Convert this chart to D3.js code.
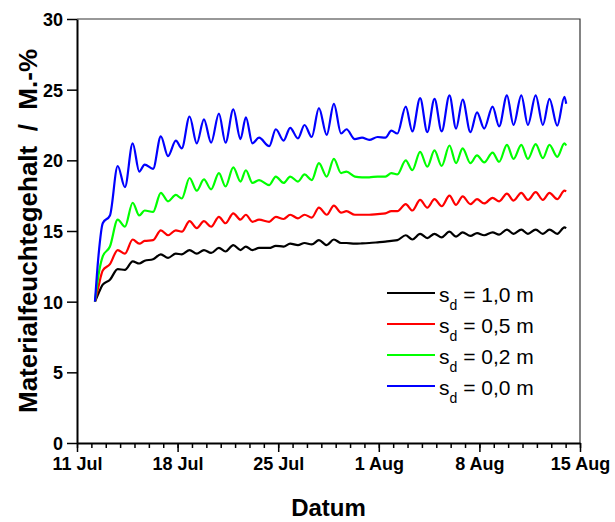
<!DOCTYPE html>
<html>
<head>
<meta charset="utf-8">
<script src="https://cdn.jsdelivr.net/npm/d3@7"></script>
<style>
  body { margin: 0; background: #fff; }
  svg { display: block; font-family: "Liberation Sans", Arial, sans-serif; }
</style>
</head>
<body>
<div id="chart"></div>
<script>
// time in days after 11 Jul 00:00
const days = [1.25, 1.5, 1.83, 2.30, 2.84, 3.34, 3.88, 4.34, 4.74, 5.32,
  5.85, 6.36, 6.88, 7.32, 7.87, 8.34, 8.87, 9.34, 9.90, 10.36,
  10.89, 11.41, 11.78, 12.24, 12.68, 13.38, 13.87, 14.38, 14.84, 15.38,
  15.84, 16.36, 16.86, 17.40, 17.91, 18.40, 18.77, 19.37, 19.84, 20.35,
  20.93, 21.46, 21.88, 22.33, 22.89, 23.34, 23.90, 24.41, 24.90, 25.41,
  25.92, 26.41, 26.85, 27.39, 27.85, 28.36, 28.94, 29.41, 29.94, 30.40,
  30.92, 31.41, 31.92, 32.43, 32.91, 33.43, 33.94, 34.05];

const sd10 = [10, 10.6, 11.2, 11.55, 12.3, 12.25, 12.85, 12.7, 12.9, 13.0,
  13.35, 13.1, 13.4, 13.35, 13.65, 13.4, 13.65, 13.45, 13.8, 13.55,
  14.0, 13.65, 13.9, 13.65, 13.8, 13.8, 13.95, 13.9, 14.1, 14.0,
  14.15, 14.05, 14.35, 14.0, 14.4, 14.15, 14.15, 14.1, 14.12, 14.15,
  14.2, 14.25, 14.3, 14.35, 14.7, 14.4, 14.8, 14.5, 14.8, 14.55,
  14.95, 14.6, 14.9, 14.65, 14.85, 14.7, 14.9, 14.75, 15.1, 14.8,
  15.1, 14.8, 15.1, 14.8, 15.1, 14.8, 15.25, 15.2];

const sd05 = [10, 11.1, 12.2, 12.65, 13.65, 13.4, 14.4, 14.1, 14.3, 14.35,
  15.05, 14.7, 15.05, 14.95, 15.7, 15.2, 15.7, 15.3, 16.0, 15.55,
  16.25, 15.8, 16.15, 15.65, 15.8, 15.65, 16.0, 15.85, 16.15, 15.9,
  16.15, 15.95, 16.65, 16.15, 16.8, 16.3, 16.4, 16.15, 16.15, 16.15,
  16.2, 16.25, 16.4, 16.4, 16.9, 16.45, 17.2, 16.65, 17.25, 16.75,
  17.5, 16.85, 17.45, 16.9, 17.25, 16.95, 17.35, 17.1, 17.65, 17.15,
  17.7, 17.2, 17.75, 17.2, 17.7, 17.25, 17.85, 17.8];

const sd02 = [10, 11.9, 13.2, 13.9, 15.8, 15.3, 17.0, 16.1, 16.45, 16.35,
  17.7, 17.1, 17.55, 17.3, 18.75, 17.85, 18.65, 17.95, 19.1, 18.15,
  19.5, 18.5, 19.3, 18.4, 18.6, 18.25, 18.85, 18.4, 18.85, 18.5,
  19.0, 18.6, 19.8, 18.85, 20.1, 19.1, 19.2, 18.85, 18.8, 18.8,
  18.85, 18.85, 19.1, 19.0, 20.0, 19.3, 20.6, 19.55, 20.7, 19.6,
  21.05, 19.8, 20.85, 19.8, 20.35, 19.85, 20.55, 19.9, 21.1, 20.1,
  21.1, 20.1, 21.15, 20.15, 21.1, 20.25, 21.2, 21.05];

const sd00 = [10, 13.3, 15.55, 16.1, 19.6, 18.1, 21.2, 19.2, 19.7, 19.4,
  21.7, 20.3, 21.4, 20.85, 23.1, 21.2, 22.9, 21.25, 23.3, 21.25,
  23.6, 21.5, 23.05, 21.2, 21.6, 21.0, 22.2, 21.4, 22.3, 21.55,
  22.5, 21.65, 23.7, 21.8, 24.0, 21.9, 22.2, 21.5, 21.6, 21.45,
  21.65, 21.6, 22.1, 21.9, 23.8, 22.05, 24.4, 22.0, 24.35, 22.05,
  24.6, 22.25, 24.3, 22.0, 23.4, 22.25, 23.8, 22.4, 24.6, 22.5,
  24.6, 22.5, 24.6, 22.5, 24.35, 22.45, 24.5, 24.0];

const seriesValues = [sd10, sd05, sd02, sd00];
const seriesNames = ["1,0 m", "0,5 m", "0,2 m", "0,0 m"];
const seriesColors = ["#000000", "#ff0000", "#00ff00", "#0000ff"];

const xTickDays = [0, 7, 14, 21, 28, 35];
const xTickLabels = ["11 Jul", "18 Jul", "25 Jul", "1 Aug", "8 Aug", "15 Aug"];
const yTicks = [0, 5, 10, 15, 20, 25, 30];

const width = 615, height = 522;
const margin = {top: 19, right: 35, bottom: 79, left: 77};

const start = new Date(2003, 6, 11);
function toDate(d) { return d3.timeHour.offset(start, Math.round(d * 24 * 60) / 60); }

const svg = d3.select("#chart").append("svg")
  .attr("width", width)
  .attr("height", height);

const x = d3.scaleTime()
  .domain([start, toDate(35)])
  .range([margin.left, width - margin.right]);

const y = d3.scaleLinear()
  .domain([0, 30])
  .range([height - margin.bottom, margin.top]);

// frame top and right
svg.append("path")
  .attr("d", "M" + x.range()[0] + "," + y(30) + "H" + x.range()[1] + "V" + y(0))
  .attr("fill", "none")
  .attr("stroke", "#333")
  .attr("stroke-width", 1.2);

// minor day ticks
svg.append("g")
  .attr("transform", "translate(0," + y(0) + ")")
  .call(d3.axisBottom(x).tickValues(d3.timeDay.range(start, toDate(35.5))).tickSize(5).tickFormat(""))
  .call(g => g.select(".domain").remove())
  .call(g => g.selectAll("line").attr("stroke-width", 1.5));

const xAxis = svg.append("g")
  .attr("transform", "translate(0," + y(0) + ")")
  .call(d3.axisBottom(x)
    .tickValues(xTickDays.map(toDate))
    .tickFormat((d, i) => xTickLabels[i])
    .tickSize(9).tickSizeOuter(0).tickPadding(5));

const yAxis = svg.append("g")
  .attr("transform", "translate(" + margin.left + ",0)")
  .call(d3.axisLeft(y).tickValues(yTicks).tickSize(10).tickSizeOuter(0).tickPadding(4));

[xAxis, yAxis].forEach(function(g) {
  g.select(".domain").attr("stroke", "#000").attr("stroke-width", 2);
  g.selectAll(".tick line").attr("stroke", "#000").attr("stroke-width", 1.5);
  g.selectAll(".tick text")
    .attr("fill", "#000")
    .style("font-family", "'Liberation Sans', Arial, sans-serif")
    .style("font-size", "18px")
    .style("font-weight", "bold");
});
yAxis.selectAll(".tick text").attr("dy", "0.36em");

const line = d3.line()
  .x((v, i) => x(toDate(days[i])))
  .y(v => y(v))
  .curve(d3.curveMonotoneX);

svg.append("g")
  .selectAll("path")
  .data(seriesValues)
  .join("path")
  .attr("d", line)
  .attr("fill", "none")
  .attr("stroke", (d, i) => seriesColors[i])
  .attr("stroke-width", 2.2)
  .attr("stroke-linejoin", "round");

// axis titles
svg.append("text")
  .attr("x", (x.range()[0] + x.range()[1]) / 2)
  .attr("y", 516)
  .attr("text-anchor", "middle")
  .style("font-size", "24px")
  .style("font-weight", "bold")
  .text("Datum");

svg.append("text")
  .attr("transform", "translate(37," + ((y(0) + y(30)) / 2) + ") rotate(-90)")
  .attr("text-anchor", "middle")
  .style("font-size", "26px")
  .style("font-weight", "bold")
  .style("white-space", "pre")
  .attr("xml:space", "preserve")
  .text("Materialfeuchtegehalt  /  M.-%");

// legend
const legend = svg.append("g")
  .selectAll("g")
  .data(seriesNames)
  .join("g")
  .attr("transform", (d, i) => "translate(387," + (293 + i * 31) + ")");

legend.append("line")
  .attr("x1", 0).attr("x2", 48)
  .attr("stroke", (d, i) => seriesColors[i])
  .attr("stroke-width", 2);

const lt = legend.append("text")
  .attr("x", 52)
  .attr("y", 9)
  .style("font-size", "21px");
lt.append("tspan").text("s");
lt.append("tspan").attr("dy", 8).style("font-size", "14px").text("d");
lt.append("tspan").attr("dy", -8).attr("xml:space", "preserve").text(d => " = " + d);
</script>
</body>
</html>
